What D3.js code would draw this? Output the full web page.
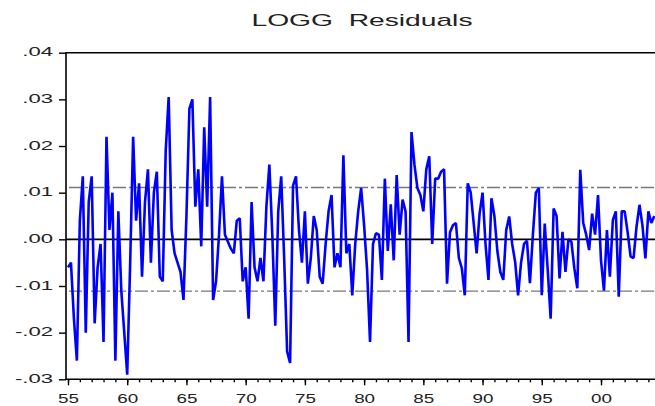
<!DOCTYPE html>
<html lang="en">
<head>
<meta charset="UTF-8">
<title>LOGG Residuals</title>
<script src="https://d3js.org/d3.v7.min.js"></script>
<style>
  body { margin: 0; background: #fff; }
  svg { display: block; }
  text { font-family: "Liberation Sans", Arial, sans-serif; fill: #222; }
</style>
</head>
<body>
<svg width="655" height="406"></svg>
<script>
// quarterly residuals, 1955Q1 onwards
const startYear = 1955;
const resid55 = [-0.006, -0.005, -0.017, -0.026, 0.004, 0.0135, -0.020, 0.008, 0.0135, -0.018,
                 -0.006, -0.001, -0.022, 0.022, 0.002, 0.010, -0.026, 0.006, -0.011, -0.020,
                 -0.029, -0.005, 0.022, 0.004, 0.012, -0.008, 0.008, 0.015, -0.005, 0.010,
                 0.0145, -0.008, -0.009, 0.019, 0.0305, 0.002, -0.003, -0.005, -0.007, -0.013];
const resid65 = [0.005, 0.028, 0.030, 0.007, 0.015, -0.0015, 0.024, 0.007, 0.0305, -0.013,
                 -0.009, 0.001, 0.0135, 0.001, -0.0005, -0.002, -0.003, 0.004, 0.0045, -0.009,
                 -0.006, -0.017, 0.008, -0.006, -0.009, -0.004, -0.009, 0.007, 0.016, 0.001,
                 -0.0185, 0.006, 0.0135, -0.004, -0.024, -0.0265, 0.0115, 0.0135, 0.002, -0.005];
const resid75 = [0.006, -0.0095, -0.004, 0.005, 0.002, -0.008, -0.0095, -0.001, 0.006, 0.0095,
                 -0.006, -0.003, -0.006, 0.018, -0.003, -0.001, -0.012, -0.001, 0.006, 0.011,
                 0.003, -0.0065, -0.022, -0.001, 0.0013, 0.001, -0.0087, 0.013, -0.0025, 0.0075,
                 -0.0045, 0.0138, 0.001, 0.0085, 0.006, -0.022, 0.023, 0.016, 0.011, 0.0095];
const resid85 = [0.006, 0.015, 0.0178, -0.001, 0.013, 0.013, 0.0145, 0.015, -0.0095, 0.0015,
                 0.003, 0.0035, -0.004, -0.0062, -0.012, 0.012, 0.010, 0.0035, -0.003, 0.0055,
                 0.010, -0.001, -0.0087, 0.0088, 0.005, -0.0025, -0.007, -0.0087, 0.002, 0.0049,
                 -0.001, -0.0048, -0.012, -0.005, -0.001, -0.0003, -0.0094, 0.001, 0.010, 0.011];
const resid95 = [-0.012, 0.0034, -0.0065, -0.017, 0.0066, 0.005, -0.0084, 0.0016, -0.007, 0.000,
                 -0.0005, -0.0062, -0.0105, 0.0149, 0.0035, 0.001, -0.0023, 0.0055, 0.001, 0.0095,
                 -0.0045, -0.011, 0.002, -0.008, 0.0041, 0.006, -0.0123, 0.006, 0.006, 0.0015,
                 -0.0037, -0.004, 0.0027, 0.0074, 0.003, -0.0041, 0.006, 0.0035, 0.005];

const sigma = 0.0111;  // the dash-dot band
const yTicks = [-0.03, -0.02, -0.01, 0, 0.01, 0.02, 0.03, 0.04];
const yTickLabels = ["-.03", "-.02", "-.01", ".00", ".01", ".02", ".03", ".04"];
const xMajorYears = [1955, 1960, 1965, 1970, 1975, 1980, 1985, 1990, 1995, 2000];
const xTickLabels = ["55", "60", "65", "70", "75", "80", "85", "90", "95", "00"];
const xMinorYears = d3.range(1955, 2006);

const resid = [].concat(resid55, resid65, resid75, resid85, resid95);
const series = resid.map((v, i) => ({ t: startYear + i / 4, v: v }));

const svg = d3.select("svg");
const plotL = 66, plotR = 662, plotT = 52.7, plotB = 379.3;

const x = d3.scaleLinear().domain([1955, 2000]).range([68, 601]);
const y = d3.scaleLinear().domain([-0.03, 0.04]).range([plotB, plotT]);

// title
svg.append("text")
    .attr("x", 362).attr("y", 25.5)
    .attr("text-anchor", "middle")
    .style("font-size", "17px")
    .style("white-space", "pre")
    .attr("textLength", 221)
    .attr("lengthAdjust", "spacingAndGlyphs")
    .text("LOGG  Residuals");

// +/- sigma lines
svg.append("g").selectAll("line")
    .data([sigma, -sigma])
    .enter().append("line")
    .attr("x1", plotL + 3).attr("x2", plotR)
    .attr("y1", d => y(d)).attr("y2", d => y(d))
    .attr("stroke", "#777")
    .attr("stroke-width", 1.4)
    .attr("stroke-dasharray", "13,3,3,3");

// zero line
svg.append("line")
    .attr("x1", plotL).attr("x2", plotR)
    .attr("y1", y(0)).attr("y2", y(0))
    .attr("stroke", "#000").attr("stroke-width", 1.6);

// residuals
const line = d3.line().x(d => x(d.t)).y(d => y(d.v));
svg.append("path")
    .datum(series)
    .attr("d", line)
    .attr("fill", "none")
    .attr("stroke", "#0000ff")
    .attr("stroke-width", 2.6)
    .attr("stroke-linejoin", "bevel");

// frame
svg.append("path")
    .attr("d", `M${plotR},${plotT}H${plotL}V${plotB}H${plotR}`)
    .attr("fill", "none")
    .attr("stroke", "#000")
    .attr("stroke-width", 1.6);

// left axis
const yAxis = svg.append("g")
    .attr("transform", `translate(${plotL},0)`)
    .call(d3.axisLeft(y).tickValues(yTicks).tickSize(7).tickSizeOuter(0)
        .tickFormat((d, i) => yTickLabels[i]));
yAxis.select(".domain").remove();
yAxis.selectAll("line").attr("stroke", "#000").attr("stroke-width", 1.4);
yAxis.selectAll("text")
    .attr("x", 0)
    .attr("transform", "translate(-13,-1) scale(1.7,1)")
    .style("font-size", "13px");

// bottom axis, yearly minor ticks then labelled major ticks
const xMinor = svg.append("g")
    .attr("transform", `translate(0,${plotB})`)
    .call(d3.axisBottom(x).tickValues(xMinorYears).tickSize(3).tickSizeOuter(0).tickFormat(""));
xMinor.select(".domain").remove();
xMinor.selectAll("line").attr("stroke", "#000").attr("stroke-width", 1.4);

const xAxis = svg.append("g")
    .attr("transform", `translate(0,${plotB})`)
    .call(d3.axisBottom(x).tickValues(xMajorYears).tickSize(6).tickSizeOuter(0)
        .tickFormat((d, i) => xTickLabels[i]));
xAxis.select(".domain").remove();
xAxis.selectAll("line").attr("stroke", "#000").attr("stroke-width", 1.4);
xAxis.selectAll("text")
    .attr("y", 0).attr("dy", null)
    .attr("transform", "translate(0,23.5) scale(1.45,1)")
    .style("font-size", "13px");
</script>
</body>
</html>
